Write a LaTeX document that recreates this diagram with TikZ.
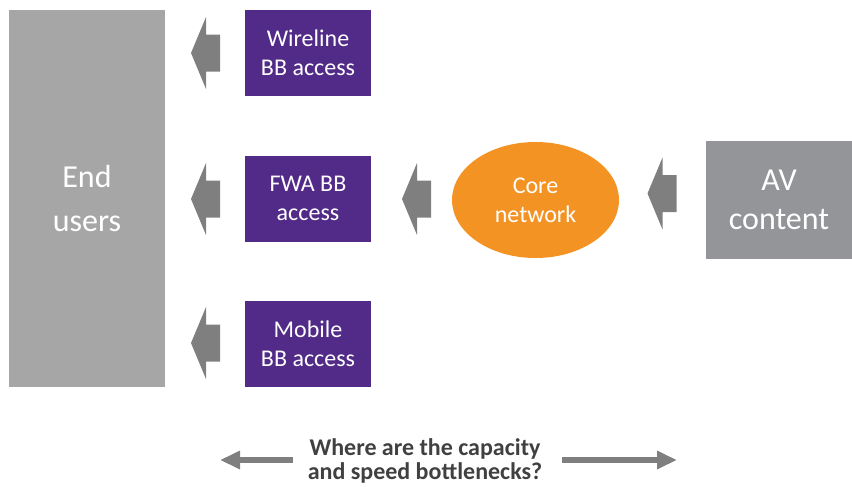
\documentclass[tikz,border=0pt]{standalone}
\usepackage{fontspec}
\setmainfont{Carlito}
\usetikzlibrary{shapes.geometric,arrows.meta}
\definecolor{purp}{HTML}{522A87}
\definecolor{orng}{HTML}{F39324}
\definecolor{arrgray}{HTML}{7F7F7F}
\definecolor{endgray}{HTML}{A6A6A6}
\definecolor{avgray}{HTML}{939598}
\definecolor{txtgray}{HTML}{404040}
\tikzset{
  x=0.75pt, y=-0.75pt,
  accbox/.style={fill=purp, text=white, minimum width=126*0.75pt, minimum height=86*0.75pt,
    align=center, inner sep=0pt, font=\fontsize{18pt}{22pt}\selectfont},
  bigbox/.style={text=white, align=center, inner sep=0pt},
  blockarr/.pic={\fill[arrgray] (-14.5,0) -- (0.5,-36) -- (0.5,-18.5) -- (14.5,-18.5)
     -- (14.5,18.5) -- (0.5,18.5) -- (0.5,36) -- cycle;},
  bottomarr/.style={draw=arrgray, line width=4.5pt, -{Triangle[length=15pt,width=13pt]}}
}
\begin{document}
\begin{tikzpicture}
\useasboundingbox (0,0) rectangle (852,486);
\node[bigbox, fill=endgray, minimum width=156*0.75pt, minimum height=377*0.75pt,
  font=\fontsize{24pt}{33pt}\selectfont] (end) at (87,198.5) {End\\users};
\node[accbox] (wire) at (308,53) {Wireline\\BB access};
\node[accbox] (fwa) at (308,198.5) {FWA BB\\access};
\node[accbox] (mob) at (308,343.5) {Mobile\\BB access};
\node[ellipse, fill=orng, text=white, minimum width=167*0.75pt, minimum height=116*0.75pt,
  inner sep=0pt, align=center, font=\fontsize{18pt}{22pt}\selectfont] (core) at (535.5,200) {Core\\network};
\node[bigbox, fill=avgray, minimum width=146*0.75pt, minimum height=118*0.75pt,
  font=\fontsize{24pt}{29pt}\selectfont] (av) at (779,200) {AV\\content};
\pic at (205.5,53) {blockarr};
\pic at (205.5,199) {blockarr};
\pic at (205.5,343) {blockarr};
\pic at (416.5,199) {blockarr};
\pic at (662,193.5) {blockarr};
\node[text=txtgray, align=center, inner sep=0pt, font=\bfseries\fontsize{18pt}{18.5pt}\selectfont] (q) at (425,461) {Where are the capacity\\and speed bottlenecks?};
\coordinate (lstart) at (293,460);
\coordinate (lend) at (220,460);
\coordinate (rstart) at (562,460);
\coordinate (rend) at (677,460);
\draw[bottomarr] (lstart) -- (lend);
\draw[bottomarr] (rstart) -- (rend);
\end{tikzpicture}
\end{document}
